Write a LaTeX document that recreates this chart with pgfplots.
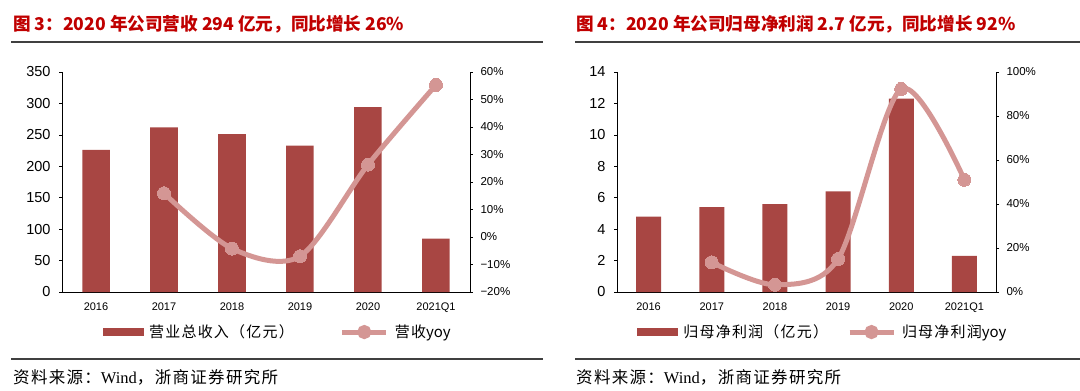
\documentclass[border=0pt]{standalone}
\usepackage{fontspec}
\setmainfont{Liberation Sans}
\newfontfamily\cjk{Noto Sans CJK SC}
\newfontfamily\cjksp{Noto Sans CJK SC}[LetterSpace=8]
\newfontfamily\serifw{Liberation Serif}
\usepackage{pgfplots}
\pgfplotsset{compat=1.18}
\definecolor{barred}{RGB}{168,70,67}
\definecolor{linepink}{RGB}{212,150,148}
\definecolor{titlered}{RGB}{192,0,0}
\definecolor{rulegray}{RGB}{64,64,64}

\pgfplotsset{
  myaxisbar/.style={
    scale only axis, width=#1, height=220pt,
    xmin=-0.5, xmax=5.5,
    axis x line*=bottom, axis y line*=left,
    xtick={0,1,2,3,4,5},
    xticklabels={2016,2017,2018,2019,2020,2021Q1},
    x tick label style={font=\fontsize{11}{11}\selectfont, yshift=-7pt},
    xtick style={draw=none},
    extra x ticks={0.5,1.5,2.5,3.5,4.5},
    extra x tick labels={},
    extra x tick style={tick align=inside, major tick length=3pt, tick style={draw=black, line width=0.6pt}},
    y tick label style={font=\fontsize{14.5}{14.5}\selectfont, xshift=-5pt},
    ytick align=outside, major tick length=3pt,
    tick style={black, line width=0.6pt},
    axis line style={black, line width=0.8pt},
    /pgf/number format/assume math mode=true,
    clip=false,
  },
  myaxisline/.style={
    scale only axis, width=#1, height=220pt,
    xmin=-0.5, xmax=5.5,
    hide x axis,
    axis y line*=right,
    y tick label style={font=\fontsize{11.5}{11.5}\selectfont, xshift=4pt},
    ytick align=outside, major tick length=3pt,
    tick style={black, line width=0.6pt},
    axis line style={black, line width=0.8pt},
    clip=false,
    legend columns=2,
    legend style={draw=none, fill=none, inner sep=0pt, outer sep=0pt,
      font=\cjksp\fontsize{15}{15}\selectfont,
      /tikz/every odd column/.append style={column sep=4pt}},
  },
  barleg/.style={legend image code/.code={\fill[barred] (0pt,-3.5pt) rectangle (40pt,3.5pt);}},
  lineleg/.style={legend image code/.code={\draw[linepink, line width=5pt] (0pt,0pt) -- (44pt,0pt); \fill[linepink] (22pt,0pt) circle (4.5pt);}},
}

\begin{document}
\begin{tikzpicture}
\useasboundingbox (0pt,0pt) rectangle (1080pt,-391pt);

% titles
\node[anchor=base west, inner sep=0pt, text=titlered, font=\cjk\bfseries\fontsize{17.6}{17.6}\selectfont] at (13pt,-30pt) {图 3：2020 年公司营收 294 亿元，同比增长 26\%};
\node[anchor=base west, inner sep=0pt, text=titlered, font=\cjk\bfseries\fontsize{17.6}{17.6}\selectfont] at (576pt,-30pt) {图 4：2020 年公司归母净利润 2.7 亿元，同比增长 92\%};
\draw[rulegray, line width=1.5pt] (11pt,-42pt) -- (543pt,-42pt);
\draw[rulegray, line width=1.5pt] (575pt,-42pt) -- (1080pt,-42pt);
\draw[rulegray, line width=1.2pt] (11pt,-359pt) -- (543pt,-359pt);
\draw[rulegray, line width=1.2pt] (575pt,-359pt) -- (1080pt,-359pt);
\node[anchor=west, inner sep=0pt, font=\cjksp\fontsize{16.5}{16.5}\selectfont] at (13pt,-377pt) {资料来源：{\serifw Wind}，浙商证券研究所};
\node[anchor=west, inner sep=0pt, font=\cjksp\fontsize{16.5}{16.5}\selectfont] at (576pt,-377pt) {资料来源：{\serifw Wind}，浙商证券研究所};

% ---------- chart 1 ----------
\begin{axis}[myaxisbar=408pt, at={(62pt,-292pt)}, anchor=south west,
  ymin=0, ymax=350, ytick={0,50,...,350}]
\addplot[ybar, bar width=27.5pt, fill=barred, draw=none] coordinates {
  (0,226) (1,262) (2,251) (3,233) (4,294) (5,85)};
\end{axis}
\begin{axis}[myaxisline=408pt, at={(62pt,-292pt)}, anchor=south west,
  ymin=-20, ymax=60, ytick={-20,-10,0,10,20,30,40,50,60},
  yticklabels={−20\%,−10\%,0\%,10\%,20\%,30\%,40\%,50\%,60\%},
  legend style={at={(axis description cs:0.1,-0.182)}, anchor=west,
    /tikz/every even column/.append style={column sep=44pt}}]
\addlegendimage{barleg}
\addlegendentry{营业总收入（亿元）}
\addplot[linepink, line width=5pt, smooth, mark=*, mark size=6.5pt, mark options={fill=linepink, draw=linepink, line width=0pt}, lineleg] coordinates {
  (1,15.9) (2,-4.2) (3,-7.0) (4,26.3) (5,55.3)};
\addlegendentry{营收{\cjk yoy}}
\end{axis}

% ---------- chart 2 ----------
\begin{axis}[myaxisbar=379pt, at={(617pt,-292pt)}, anchor=south west,
  ymin=0, ymax=14, ytick={0,2,...,14}]
\addplot[ybar, bar width=25pt, fill=barred, draw=none] coordinates {
  (0,4.8) (1,5.4) (2,5.6) (3,6.4) (4,12.3) (5,2.3)};
\end{axis}
\begin{axis}[myaxisline=379pt, at={(617pt,-292pt)}, anchor=south west,
  ymin=0, ymax=100, ytick={0,20,...,100},
  yticklabels={0\%,20\%,40\%,60\%,80\%,100\%},
  legend style={at={(axis description cs:0.0528,-0.182)}, anchor=west,
    /tikz/every even column/.append style={column sep=17pt}}]
\addlegendimage{barleg}
\addlegendentry{归母净利润（亿元）}
\addplot[linepink, line width=5pt, smooth, mark=*, mark size=6.5pt, mark options={fill=linepink, draw=linepink, line width=0pt}, lineleg] coordinates {
  (1,13.5) (2,3.3) (3,15.0) (4,92.3) (5,51.0)};
\addlegendentry{归母净利润{\cjk yoy}}
\end{axis}
\end{tikzpicture}
\end{document}
